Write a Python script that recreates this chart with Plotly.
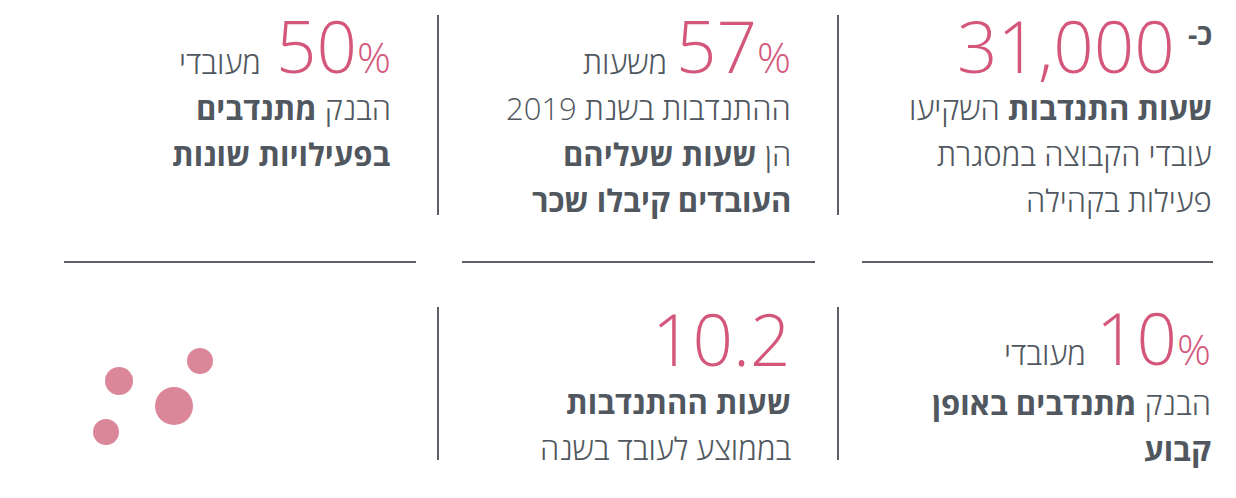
import plotly.graph_objects as go

W, H = 1236, 498
PINK = "#d4577b"
GRAY = "#50575e"
LINE = "#5b6067"
BUBBLE = "#db8799"
FONT = "Open Sans"

# ---- data ----
big_numbers = ["31,000", "57", "50", "10", "10.2"]
big_suffix = ["", "%", "%", "%", ""]
prefix_words = ["-כ", "משעות", "מעובדי", "מעובדי", ""]
body_lines = [
    ["<b>שעות התנדבות</b> השקיעו", "עובדי הקבוצה במסגרת", "פעילות בקהילה"],
    ["ההתנדבות בשנת 2019", "הן <b>שעות שעליהם</b>", "<b>העובדים קיבלו שכר</b>"],
    ["הבנק <b>מתנדבים</b>", "<b>בפעילויות שונות</b>"],
    ["הבנק <b>מתנדבים באופן</b>", "<b>קבוע</b>"],
    ["<b>שעות ההתנדבות</b>", "בממוצע לעובד בשנה"],
]
bubble_sizes = [28, 26, 38, 26]

# ---- layout (pixel positions) ----
cell_right = [1213, 792, 392, 1212, 792]
num_right = [1176, 792, 392, 1212, 792]
num_y = [45, 45, 45, 337, 338]
prefix_right = [1213, 668, 262, 1087, None]
prefix_y = [33, 62, 62, 353, None]
body_y0 = [108, 108, 108, 403, 402]
body_dy = 46
bubble_x = [119, 200, 174, 106]
bubble_y = [381, 361, 406, 432]

fig = go.Figure()
fig.add_trace(go.Scatter(
    x=bubble_x, y=bubble_y, mode="markers",
    marker=dict(size=bubble_sizes, color=BUBBLE, opacity=1, line=dict(width=0)),
    hoverinfo="skip", showlegend=False))

ann = []
for i in range(len(big_numbers)):
    txt = big_numbers[i]
    if big_suffix[i]:
        txt += "<span style='font-size:42px'>" + big_suffix[i] + "</span>"
    ann.append(dict(x=num_right[i], y=num_y[i], text=txt, xanchor="right", yanchor="middle",
                    showarrow=False, borderpad=0,
                    font=dict(family=FONT, size=71, color=PINK, weight=300)))
    if prefix_words[i]:
        if i == 0:
            f = dict(family=FONT, size=29, color=GRAY, weight=700)
        else:
            f = dict(family=FONT, size=31, color=GRAY, weight=300)
        ann.append(dict(x=prefix_right[i], y=prefix_y[i], text=prefix_words[i], xanchor="right",
                        yanchor="middle", showarrow=False, borderpad=0, font=f))
    for j, line in enumerate(body_lines[i]):
        ann.append(dict(x=cell_right[i], y=body_y0[i] + j * body_dy, text=line, xanchor="right",
                        yanchor="middle", showarrow=False, borderpad=0,
                        font=dict(family=FONT, size=31, color=GRAY, weight=300)))

shapes = []
# vertical dividers
for x in [438, 838]:
    shapes.append(dict(type="line", x0=x, x1=x, y0=15, y1=215, line=dict(color=LINE, width=2)))
    shapes.append(dict(type="line", x0=x, x1=x, y0=307, y1=460, line=dict(color=LINE, width=2)))
# horizontal dividers
for x0, x1 in [(64, 416), (462, 815), (862, 1213)]:
    shapes.append(dict(type="line", x0=x0, x1=x1, y0=262, y1=262, line=dict(color=LINE, width=2)))

fig.update_layout(
    width=W, height=H, margin=dict(l=0, r=0, t=0, b=0),
    paper_bgcolor="white", plot_bgcolor="white",
    xaxis=dict(range=[0, W], visible=False, fixedrange=True),
    yaxis=dict(range=[H, 0], visible=False, fixedrange=True),
    annotations=ann, shapes=shapes, showlegend=False,
)
fig.write_html("out.html", config={"displayModeBar": False},
               post_script="document.body.style.margin='0';document.body.style.overflow='hidden';")
